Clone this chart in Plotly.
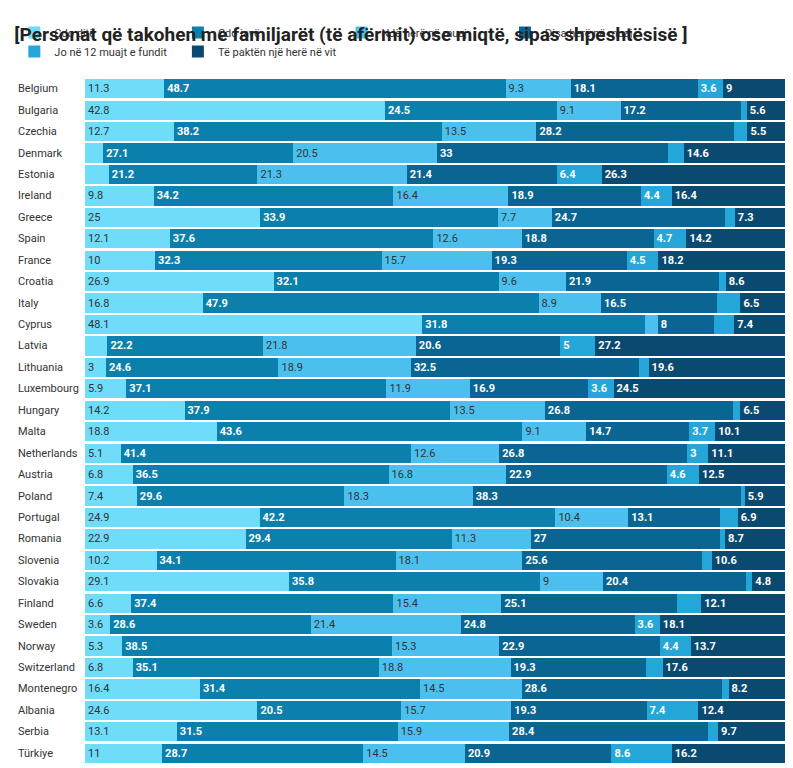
import plotly.graph_objects as go

countries = ["Belgium", "Bulgaria", "Czechia", "Denmark", "Estonia", "Ireland", "Greece", "Spain",
             "France", "Croatia", "Italy", "Cyprus", "Latvia", "Lithuania", "Luxembourg", "Hungary",
             "Malta", "Netherlands", "Austria", "Poland", "Portugal", "Romania", "Slovenia", "Slovakia",
             "Finland", "Sweden", "Norway", "Switzerland", "Montenegro", "Albania", "Serbia", "Türkiye"]

cdo_dite = [11.3, 42.8, 12.7, 2.6, 3.4, 9.8, 25, 12.1, 10, 26.9, 16.8, 48.1, 3.2, 3, 5.9, 14.2,
            18.8, 5.1, 6.8, 7.4, 24.9, 22.9, 10.2, 29.1, 6.6, 3.6, 5.3, 6.8, 16.4, 24.6, 13.1, 11]
cdo_jave = [48.7, 24.5, 38.2, 27.1, 21.2, 34.2, 33.9, 37.6, 32.3, 32.1, 47.9, 31.8, 22.2, 24.6, 37.1, 37.9,
            43.6, 41.4, 36.5, 29.6, 42.2, 29.4, 34.1, 35.8, 37.4, 28.6, 38.5, 35.1, 31.4, 20.5, 31.5, 28.7]
nje_here = [9.3, 9.1, 13.5, 20.5, 21.3, 16.4, 7.7, 12.6, 15.7, 9.6, 8.9, 1.8, 21.8, 18.9, 11.9, 13.5,
            9.1, 12.6, 16.8, 18.3, 10.4, 11.3, 18.1, 9, 15.4, 21.4, 15.3, 18.8, 14.5, 15.7, 15.9, 14.5]
disa_here = [18.1, 17.2, 28.2, 33, 21.4, 18.9, 24.7, 18.8, 19.3, 21.9, 16.5, 8, 20.6, 32.5, 16.9, 26.8,
             14.7, 26.8, 22.9, 38.3, 13.1, 27, 25.6, 20.4, 25.1, 24.8, 22.9, 19.3, 28.6, 19.3, 28.4, 20.9]
jo_12 = [3.6, 0.8, 1.9, 2.2, 6.4, 4.4, 1.4, 4.7, 4.5, 0.9, 3.4, 2.9, 5, 1.4, 3.6, 1.1,
         3.7, 3, 4.6, 0.5, 2.5, 0.7, 1.4, 0.9, 3.4, 3.6, 4.4, 2.4, 0.9, 7.4, 1.4, 8.6]
te_pakten = [9, 5.6, 5.5, 14.6, 26.3, 16.4, 7.3, 14.2, 18.2, 8.6, 6.5, 7.4, 27.2, 19.6, 24.5, 6.5,
             10.1, 11.1, 12.5, 5.9, 6.9, 8.7, 10.6, 4.8, 12.1, 18.1, 13.7, 17.6, 8.2, 12.4, 9.7, 16.2]

# values read only from bar lengths, no label shown in the source
unlabeled = {
    "Çdo ditë": ["Denmark", "Estonia", "Latvia"],
    "NJë herë në muaj": ["Cyprus"],
    "Jo në 12 muajt e fundit": ["Bulgaria", "Czechia", "Denmark", "Greece", "Croatia", "Italy", "Cyprus",
                                "Lithuania", "Hungary", "Poland", "Portugal", "Romania", "Slovenia",
                                "Slovakia", "Finland", "Switzerland", "Montenegro", "Serbia"],
}

series = [
    ("Çdo ditë", cdo_dite, "#6fdcfa", False),
    ("Çdo javë", cdo_jave, "#0c80ad", True),
    ("NJë herë në muaj", nje_here, "#4bc0ee", False),
    ("Disa herë në muaj", disa_here, "#0a6592", True),
    ("Jo në 12 muajt e fundit", jo_12, "#25a6d9", True),
    ("Të paktën një herë në vit", te_pakten, "#0a4a70", True),
]

fig = go.Figure()
for name, vals, color, dark in series:
    skip = unlabeled.get(name, [])
    text = ["" if c in skip else f"{v:g}" for c, v in zip(countries, vals)]
    if dark:
        text = [f"<b>{t}</b>" if t else "" for t in text]
    fig.add_trace(go.Bar(
        y=countries, x=vals, name=name, orientation="h", marker=dict(color=color, line_width=0),
        text=text, textposition="inside", insidetextanchor="start", constraintext="none",
        textfont=dict(color="white" if dark else "#333333", size=11, family="Roboto"),
        hoverinfo="x+name",
    ))

# country labels, left aligned like the source
for c in countries:
    fig.add_annotation(x=-0.0985, xref="paper", y=c, yref="y", text=c, showarrow=False,
                       xanchor="left", font=dict(size=11, color="#333333"))

fig.update_layout(
    barmode="stack", bargap=0.1, width=793, height=768,
    font=dict(family="Roboto", size=11, color="#333333"),
    title=dict(text="<b>[Personat që takohen me familjarët (të afërmit) ose miqtë, sipas shpeshtësisë ]</b>",
               x=0.008, y=0.975, xanchor="left", font=dict(size=19, color="#222222")),
    legend=dict(orientation="h", x=0.008, y=58 / 768, xref="container", yref="container",
                yanchor="bottom", xanchor="left", font=dict(size=11),
                itemwidth=30, tracegroupgap=0, traceorder="normal", entrywidthmode="pixels"),
    margin=dict(l=77, r=15, t=64, b=12),
    plot_bgcolor="white", paper_bgcolor="white",
)
fig.update_layout(legend=dict(y=1 - 58 / 768))
fig.update_xaxes(visible=False, range=[0, 100])
fig.update_yaxes(autorange="reversed", showticklabels=False, ticks="", showline=False)
fig.write_html("out.html")
